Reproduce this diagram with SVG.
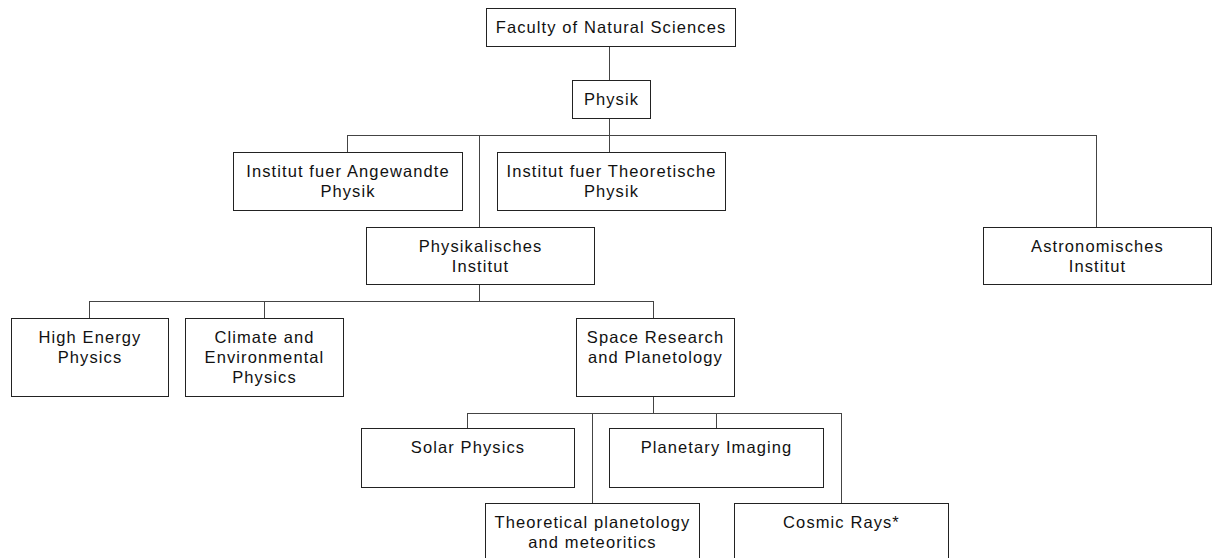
<svg xmlns="http://www.w3.org/2000/svg" width="1214" height="558" viewBox="0 0 1214 558">
<style>
.box{fill:#fff;stroke:#222;stroke-width:1}
.lbl{font-family:"Liberation Sans",Arial,sans-serif;font-size:16.5px;letter-spacing:1.1px;fill:#111;text-anchor:middle}
.con{fill:none;stroke:#444;stroke-width:1}
</style>
<rect width="1214" height="558" fill="#fff"/>
<g id="connectors">
<path class="con" d="M609.5 46V80M609.5 118V152M347 135.5H1097M347.5 135V152M479.5 135V227M1096.5 135V227M479.5 284V301M89 301.5H654M89.5 301V318M264.5 301V318M653.5 301V318M653.5 396V413M467 413.5H842M467.5 413V428M716.5 413V428M592.5 413V503M841.5 413V503"/>
</g>
<g id="faculty"><rect class="box" x="486.5" y="8.5" width="249" height="38"/><text class="lbl" x="611" y="33">Faculty of Natural Sciences</text></g>
<g id="physik"><rect class="box" x="572.5" y="80.5" width="78" height="38"/><text class="lbl" x="611.5" y="105">Physik</text></g>
<g id="angewandte"><rect class="box" x="233.5" y="152.5" width="229" height="58"/><text class="lbl" x="348" y="177">Institut fuer Angewandte</text><text class="lbl" x="348" y="197">Physik</text></g>
<g id="theoretische"><rect class="box" x="497.5" y="152.5" width="228" height="58"/><text class="lbl" x="611.5" y="177">Institut fuer Theoretische</text><text class="lbl" x="611.5" y="197">Physik</text></g>
<g id="physikalisches"><rect class="box" x="366.5" y="227.5" width="228" height="57"/><text class="lbl" x="480.5" y="252">Physikalisches</text><text class="lbl" x="480.5" y="272">Institut</text></g>
<g id="astronomisches"><rect class="box" x="983.5" y="227.5" width="228" height="57"/><text class="lbl" x="1097.5" y="252">Astronomisches</text><text class="lbl" x="1097.5" y="272">Institut</text></g>
<g id="highenergy"><rect class="box" x="11.5" y="318.5" width="157" height="78"/><text class="lbl" x="90" y="343">High Energy</text><text class="lbl" x="90" y="363">Physics</text></g>
<g id="climate"><rect class="box" x="185.5" y="318.5" width="158" height="78"/><text class="lbl" x="264.5" y="343">Climate and</text><text class="lbl" x="264.5" y="363">Environmental</text><text class="lbl" x="264.5" y="383">Physics</text></g>
<g id="space"><rect class="box" x="576.5" y="318.5" width="158" height="78"/><text class="lbl" x="655.5" y="343">Space Research</text><text class="lbl" x="655.5" y="363">and Planetology</text></g>
<g id="solar"><rect class="box" x="361.5" y="428.5" width="213" height="59"/><text class="lbl" x="468" y="453">Solar Physics</text></g>
<g id="planetary"><rect class="box" x="609.5" y="428.5" width="214" height="59"/><text class="lbl" x="716.5" y="453">Planetary Imaging</text></g>
<g id="theoplanet"><rect class="box" x="485.5" y="503.5" width="214" height="70"/><text class="lbl" x="592.5" y="528">Theoretical planetology</text><text class="lbl" x="592.5" y="548">and meteoritics</text></g>
<g id="cosmic"><rect class="box" x="734.5" y="503.5" width="214" height="70"/><text class="lbl" x="841.5" y="528">Cosmic Rays*</text></g>
</svg>
